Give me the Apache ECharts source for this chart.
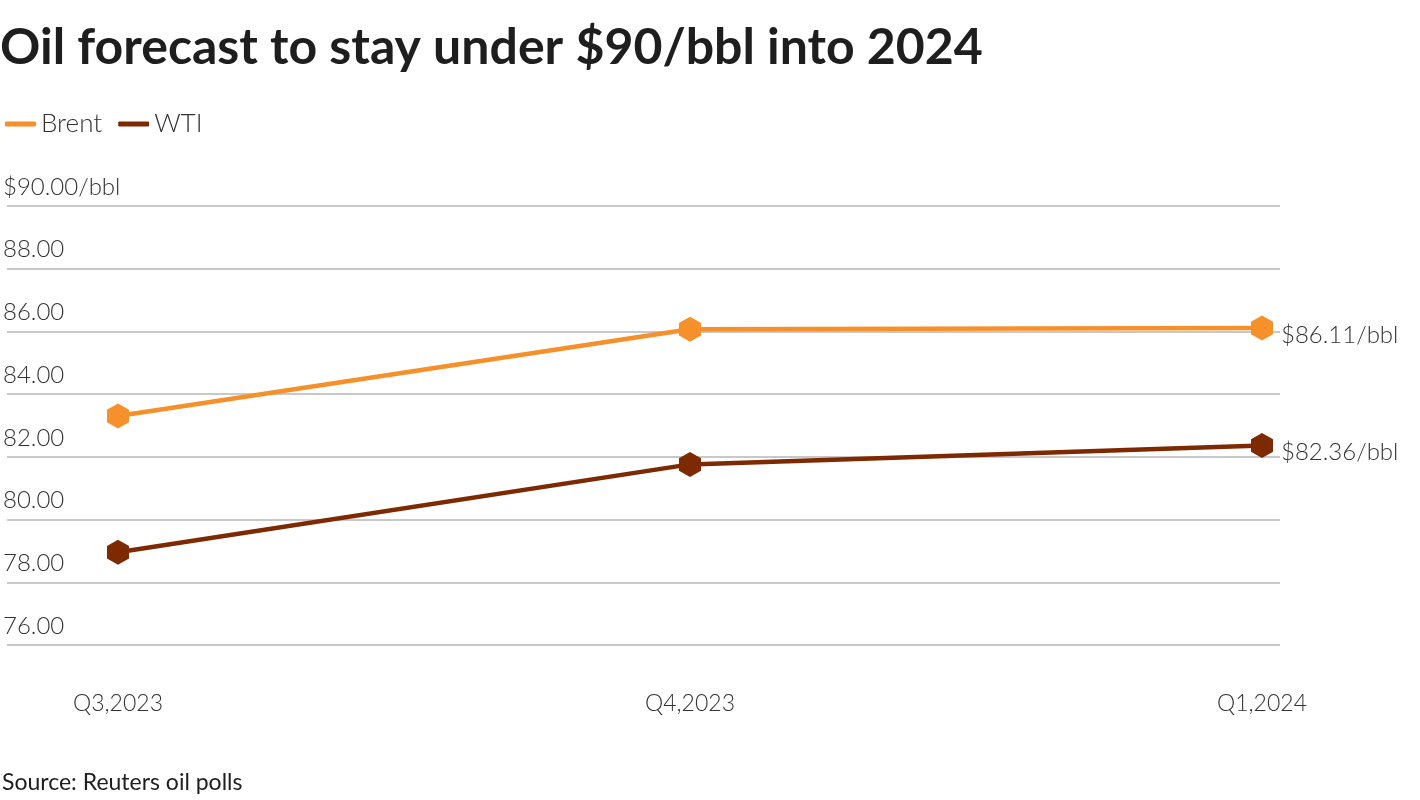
<!DOCTYPE html>
<html><head><meta charset="utf-8">
<script src="https://cdn.jsdelivr.net/npm/echarts@6/dist/echarts.min.js"></script>
<style>html,body{margin:0;padding:0;background:#fff}#c{width:1420px;height:800px}</style>
</head><body><div id="c"></div>
<script>
const categories = ['Q3,2023', 'Q4,2023', 'Q1,2024'];
const brent = [83.30, 86.07, 86.11];
const wti = [78.96, 81.76, 82.36];
const yTicks = [76, 78, 80, 82, 84, 86, 88, 90];

const FONT = 'Lato';
const hex = 'path://M0,-1 L0.866,-0.5 L0.866,0.5 L0,1 L-0.866,0.5 L-0.866,-0.5 Z';
const chart = echarts.init(document.getElementById('c'));
const yMin = yTicks[0], yMax = yTicks[yTicks.length - 1];
const lbl = { fontFamily: FONT, fontSize: 24, color: '#333', fontWeight: 300 };
chart.setOption({
  animation: false,
  textStyle: { fontFamily: FONT },
  title: [
    { text: 'Oil forecast to stay under $90/bbl into 2024', left: -5, top: 18,
      textStyle: { fontFamily: FONT, fontWeight: 'bold', fontSize: 50, color: '#1e1e1e' } },
    { text: 'Source: Reuters oil polls', left: -3, top: 766,
      textStyle: { fontFamily: FONT, fontWeight: 'normal', fontSize: 23, color: '#1e1e1e' } }
  ],
  legend: {
    left: 0, top: 106, itemWidth: 31, itemHeight: 5, itemGap: 16,
    icon: 'roundRect',
    textStyle: { fontFamily: FONT, fontSize: 26, color: '#333', fontWeight: 300 },
    data: ['Brent', 'WTI']
  },
  grid: [
    { left: 0, right: 140, top: 206, bottom: 155 },
    { left: 118, right: 158, top: 206, bottom: 155 }
  ],
  xAxis: [
    { gridIndex: 0, type: 'value', min: 0, max: 1, show: false },
    { gridIndex: 1, type: 'category', data: categories, boundaryGap: false,
      axisLine: { show: false }, axisTick: { show: false },
      axisLabel: Object.assign({ margin: 47 }, lbl, { fontSize: 23 }) }
  ],
  yAxis: [
    { gridIndex: 0, type: 'value', min: yMin, max: yMax, interval: 2, offset: 4,
      axisLine: { show: false }, axisTick: { show: false },
      splitLine: { lineStyle: { color: '#c8c8c8', width: 2 } },
      axisLabel: Object.assign({ inside: true, margin: 0, verticalAlign: 'bottom', padding: [0, 0, 7, 0],
        formatter: v => v === yMax ? '$' + v.toFixed(2) + '/bbl' : v.toFixed(2) }, lbl) },
    { gridIndex: 1, type: 'value', min: yMin, max: yMax, show: false }
  ],
  series: [
    { name: 'Brent', type: 'line', xAxisIndex: 1, yAxisIndex: 1, data: brent,
      color: '#f5902a', symbol: hex, symbolSize: [22, 25], lineStyle: { width: 4.5 },
      endLabel: Object.assign({ show: true, formatter: p => '$' + p.value.toFixed(2) + '/bbl', offset: [11, 7] }, lbl) },
    { name: 'WTI', type: 'line', xAxisIndex: 1, yAxisIndex: 1, data: wti,
      color: '#7d2a02', symbol: hex, symbolSize: [22, 25], lineStyle: { width: 4.5 },
      endLabel: Object.assign({ show: true, formatter: p => '$' + p.value.toFixed(2) + '/bbl', offset: [11, 7] }, lbl) }
  ]
});
</script></body></html>
